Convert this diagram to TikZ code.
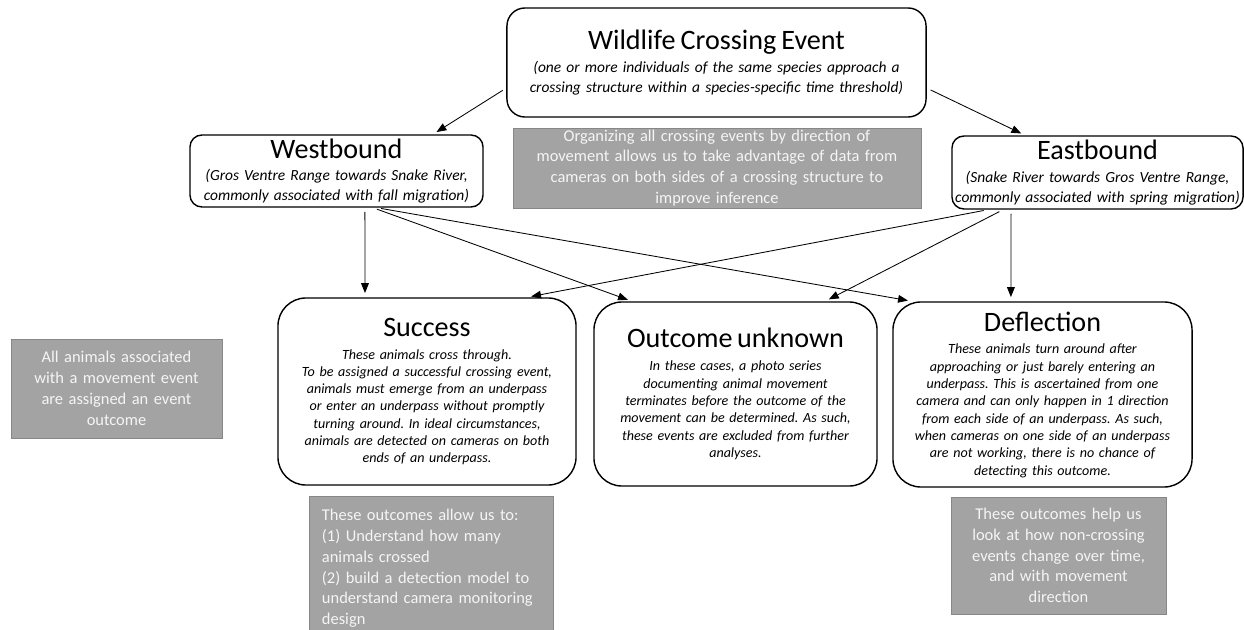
\documentclass[tikz,border=0pt]{standalone}
\usepackage{fontspec}
\setmainfont{Carlito}
\usetikzlibrary{arrows.meta}
\frenchspacing

\definecolor{notefill}{RGB}{163,163,163}
\definecolor{noteline}{RGB}{135,135,135}
\definecolor{notetext}{RGB}{245,245,245}

\newcommand{\heading}[2][2pt]{{\upshape\fontsize{20}{24}\selectfont #2\par}\vspace{#1}}

\begin{document}
\begin{tikzpicture}[x=0.025cm, y=-0.025cm,
	event/.style={draw, line width=1pt, fill=white, align=center, inner sep=0pt,
		font=\itshape\fontsize{11}{14}\selectfont},
	outcome/.style={event, rounded corners=0.7cm, font=\itshape\fontsize{10}{12.3}\selectfont},
	note/.style={draw=noteline, fill=notefill, text=notetext, align=center, inner sep=0pt,
		font=\fontsize{11.7}{14.8}\selectfont},
	link/.style={-{Triangle[length=7pt,width=5.5pt]}, line width=0.6pt, shorten <=3pt, shorten >=3pt}]

	\useasboundingbox (0,0) rectangle (1244,630);

	% events
	\node[event, rounded corners=0.45cm, minimum width=10.475cm, minimum height=2.725cm, text width=10.2cm] (crossing) at (716.5,62.5)
		{\heading{Wildlife Crossing Event}(one or more individuals of the same species approach a\\crossing structure within a species-specific time threshold)};
	\node[event, rounded corners=0.3cm, minimum width=7.325cm, minimum height=1.8cm, text width=7.25cm] (west) at (336.5,171)
		{\heading{Westbound}(Gros Ventre Range towards Snake River,\\commonly associated with fall migration)};
	\node[event, rounded corners=0.3cm, minimum width=7.275cm, minimum height=1.825cm, text width=7.25cm] (east) at (1097.5,172.5)
		{\heading{Eastbound}(Snake River towards Gros Ventre Range,\\commonly associated with spring migration)};

	% outcomes
	\node[outcome, minimum width=7.45cm, minimum height=4.675cm, text width=7.2cm] (success) at (427,391.5)
		{\heading[4pt]{Success}These animals cross through.\\To be assigned a successful crossing event,\\animals must emerge from an underpass\\or enter an underpass without promptly\\turning around. In ideal circumstances,\\animals are detected on cameras on both\\ends of an underpass.};
	\node[outcome, minimum width=7.075cm, minimum height=4.6cm, text width=6.9cm] (unknown) at (735.5,394)
		{\heading[4pt]{Outcome unknown}In these cases, a photo series\\documenting animal movement\\terminates before the outcome of the\\movement can be determined. As such,\\these events are excluded from further\\analyses.};
	\node[outcome, minimum width=7.475cm, minimum height=4.625cm, text width=7.2cm] (deflection) at (1042.5,394.5)
		{\heading[4pt]{Deflection}These animals turn around after\\approaching or just barely entering an\\underpass. This is ascertained from one\\camera and can only happen in 1 direction\\from each side of an underpass. As such,\\when cameras on one side of an underpass\\are not working, there is no chance of\\detecting this outcome.};

	% notes
	\node[note, minimum width=10.2cm, minimum height=2cm, text width=10cm] (direction) at (717,168)
		{Organizing all crossing events by direction of\\movement allows us to take advantage of data from\\cameras on both sides of a crossing structure to\\improve inference};
	\node[note, minimum width=5.275cm, minimum height=2.475cm, text width=5cm] (assigned) at (116.5,388.5)
		{All animals associated\\with a movement event\\are assigned an event\\outcome};
	\node[note, anchor=north, align=left, minimum width=6.1cm, minimum height=3.6cm, text width=5.45cm] (uses) at (431,496)
		{These outcomes allow us to:\\(1) Understand how many\\animals crossed\\(2) build a detection model to\\understand camera monitoring\\design};
	\node[note, minimum width=5.375cm, minimum height=2.925cm, text width=5.2cm] (noncrossing) at (1058.5,555.5)
		{These outcomes help us\\look at how non-crossing\\events change over time,\\and with movement\\direction};

	% connectors
	\draw[link] ([yshift=-0.64cm]crossing.west) -- ([xshift=2.41cm]west.north);
	\draw[link] ([yshift=-0.64cm]crossing.east) -- ([xshift=-1.81cm]east.north);
	\draw[link] ([xshift=0.71cm]west.south) -- ([xshift=-1.55cm]success.north);
	\draw[link] ([xshift=0.91cm]west.south) -- ([xshift=-2.59cm]unknown.north);
	\draw[link] ([xshift=1.01cm]west.south) -- ([xshift=-3.26cm]deflection.north);
	\draw[link] ([xshift=-2.74cm]east.south) -- ([xshift=2.5cm]success.north);
	\draw[link] ([xshift=-2.36cm]east.south) -- ([xshift=2.24cm]unknown.north);
	\draw[link] ([xshift=-2.16cm]east.south) -- ([xshift=-0.79cm]deflection.north);
\end{tikzpicture}
\end{document}
